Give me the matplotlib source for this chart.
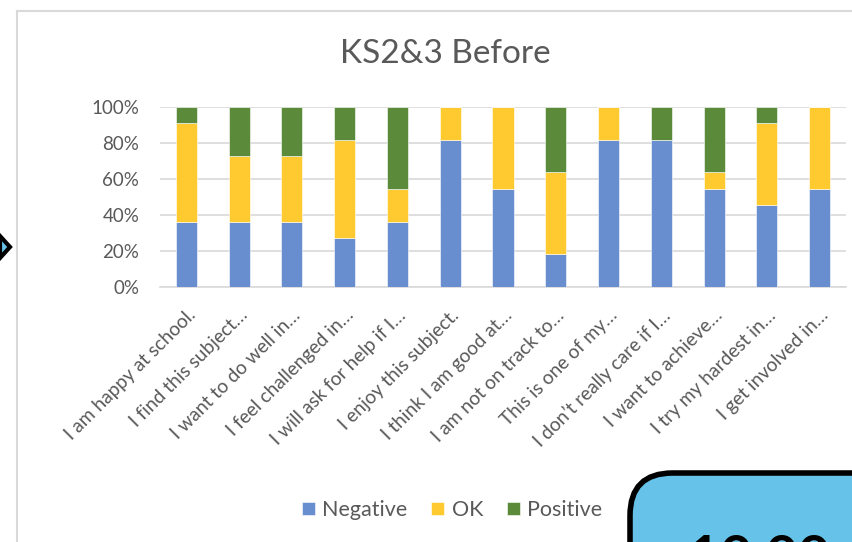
import matplotlib
matplotlib.use("Agg")
import matplotlib.pyplot as plt
from matplotlib.patches import FancyBboxPatch, Polygon
from matplotlib.lines import Line2D
import numpy as np

plt.rcParams['font.family'] = ['Lato', 'DejaVu Sans']

# data: student counts per statement (11 responses each)
statements = [
    "I am happy at school.",
    "I find this subject\u2026",
    "I want to do well in\u2026",
    "I feel challenged in\u2026",
    "I will ask for help if I\u2026",
    "I enjoy this subject.",
    "I think I am good at\u2026",
    "I am not on track to\u2026",
    "This is one of my\u2026",
    "I don\u2019t really care if I\u2026",
    "I want to achieve\u2026",
    "I try my hardest in\u2026",
    "I get involved in\u2026",
]
negative = [4, 4, 4, 3, 4, 9, 6, 2, 9, 9, 6, 5, 6]
ok = [6, 4, 4, 6, 2, 2, 5, 5, 2, 0, 1, 5, 5]
positive = [1, 3, 3, 2, 5, 0, 0, 4, 0, 2, 4, 1, 0]

series = {"Negative": negative, "OK": ok, "Positive": positive}
colors = {"Negative": "#698ed0", "OK": "#ffca30", "Positive": "#5a8a3a"}

totals = np.array(negative) + np.array(ok) + np.array(positive)

fig = plt.figure(figsize=(8.52, 5.42), dpi=100)
ax = fig.add_axes([160 / 852, 1 - 287 / 542, 686 / 852, 180 / 542])

x = np.arange(len(statements))
bottom = np.zeros(len(statements))
for name, vals in series.items():
    pct = np.array(vals) / totals * 100
    ax.bar(x, pct, width=0.4, bottom=bottom, color=colors[name],
           edgecolor='white', linewidth=0.4, label=name, zorder=3)
    bottom += pct

ax.set_xlim(-0.5, len(statements) - 0.5)
ax.set_ylim(0, 100)
ax.set_yticks(range(0, 101, 20))
ax.set_yticklabels([f"{v}%" for v in range(0, 101, 20)])
ax.set_xticks(x)
ax.set_xticklabels(statements, rotation=45, ha='right', va='top',
                   rotation_mode='anchor')
ax.tick_params(axis='both', length=0, colors='#595959')
ax.tick_params(axis='x', pad=14, labelsize=13.8)
ax.tick_params(axis='y', pad=15, labelsize=13.5)
ax.grid(axis='y', color='#d9d9d9', linewidth=1.2, zorder=0)
for s in ['top', 'right', 'left']:
    ax.spines[s].set_visible(False)
ax.spines['bottom'].set_color('#d9d9d9')
ax.spines['bottom'].set_linewidth(1.2)

fig.text(445 / 852, 1 - 54 / 542, "KS2&3 Before", ha='center', va='center',
         fontsize=24, color='#595959')

handles, labels = ax.get_legend_handles_labels()
fig.legend(handles, labels, loc='center', ncol=3,
           bbox_to_anchor=(452 / 852, 1 - 510 / 542), frameon=False,
           handlelength=0.6, handleheight=0.6, handletextpad=0.35,
           columnspacing=1.1, fontsize=15.5, labelcolor='#595959')

# chart frame edges visible in the screenshot
fig.add_artist(Line2D([17 / 852, 17 / 852], [0, 1 - 11 / 542],
                      color='#d9d9d9', linewidth=1.5))
fig.add_artist(Line2D([17 / 852, 1], [1 - 11 / 542, 1 - 11 / 542],
                      color='#d9d9d9', linewidth=1.5))

# arrow on the left edge
arrow = Polygon([[0, 1 - 236 / 542], [10 / 852, 1 - 247 / 542], [0, 1 - 258 / 542]],
                closed=True, facecolor='#66c2e8', edgecolor='black', linewidth=3,
                transform=fig.transFigure)
fig.add_artist(arrow)

# rounded blue box at bottom right
box = FancyBboxPatch((630 / 852, -0.2), 0.5, 0.2 + (542 - 473) / 542,
                     boxstyle="round,pad=0,rounding_size=0.05",
                     facecolor='#66c2e8', edgecolor='black', linewidth=4,
                     transform=fig.transFigure, mutation_aspect=852 / 542)
fig.add_artist(box)
fig.text(688 / 852, 1 - 534 / 542, "10 00", ha='left', va='top',
         fontsize=40, fontweight='bold', color='black')

fig.savefig("out.png", dpi=100)
